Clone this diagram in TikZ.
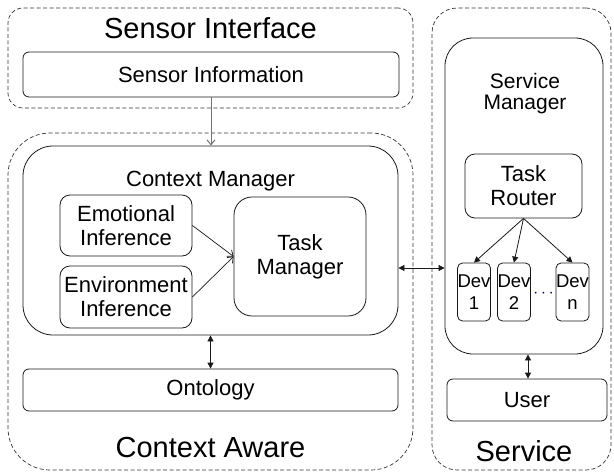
\documentclass[tikz,border=0pt]{standalone}
\usepackage{fontspec}
\setmainfont{Liberation Sans}
\usetikzlibrary{arrows.meta}
\begin{document}
\begin{tikzpicture}[x=1pt,y=-1pt,
  group/.style={draw=black!80, dashed, dash pattern=on 4pt off 2.5pt, line width=0.7pt, rounded corners=#1},
  box/.style={draw=black!90, line width=0.8pt, rounded corners=#1, align=center, inner sep=0pt,
    font=\fontsize{22}{24}\selectfont},
  devbox/.style={draw=black!90, line width=0.8pt, rounded corners=5pt, align=center, inner sep=0pt,
    minimum width=32pt, minimum height=58pt, font=\fontsize{18.5}{22}\selectfont},
  title/.style={font=\fontsize{29}{32}\selectfont, inner sep=0pt},
  lbl/.style={font=\fontsize{22}{22}\selectfont, inner sep=0pt, align=center},
  dbl/.style={{Triangle[length=6pt,width=6pt]}-{Triangle[length=6pt,width=6pt]}, line width=0.8pt, black!90},
  one/.style={-{Triangle[length=6pt,width=6pt]}, line width=0.8pt, black!90},
  barb/.style={-{Straight Barb[length=5pt,width=8pt]}, line width=0.7pt, black!90},
  gbarb/.style={-{Straight Barb[length=5pt,width=8pt]}, line width=1pt, black!55}
]
\useasboundingbox (0,0) rectangle (614,474);

% group frames
\node[group=15pt, minimum width=405pt, minimum height=100pt] (SIg) at (210.5,58) {};
\node[group=42pt, minimum width=405pt, minimum height=337pt] (CAg) at (210.5,301.5) {};
\node[group=25pt, minimum width=179pt, minimum height=462pt] (SVg) at (521.5,239) {};

% titles
\node[title] (SIt) at (210.5,28) {Sensor Interface};
\node[title] (CAt) at (210.5,448) {Context Aware};
\node[title] (SVt) at (524,451) {Service};

% sensor interface
\node[box=6pt, minimum width=376pt, minimum height=45pt] (SI) at (211,74.5) {Sensor Information};

% context aware
\node[box=30pt, minimum width=375pt, minimum height=189pt] (CM) at (210.5,240.5) {};
\node[lbl] (CMt) at (210.5,181) {Context Manager};
\node[box=10pt, minimum width=132pt, minimum height=61pt] (EM) at (126,225.5) {Emotional\\Inference};
\node[box=10pt, minimum width=132pt, minimum height=62pt] (EN) at (126,297) {Environment\\Inference};
\node[box=18pt, minimum width=132pt, minimum height=119pt] (TM) at (300,256.5) {Task\\Manager};
\node[box=6pt, minimum width=375pt, minimum height=42pt] (ON) at (210.5,390) {Ontology};

% service
\node[box=28pt, minimum width=158pt, minimum height=316pt] (SM) at (524,196) {};
\node[lbl, font=\fontsize{21}{21}\selectfont] (SMt) at (525,94) {Service\\Manager};
\node[box=10pt, minimum width=117pt, minimum height=64pt] (TR) at (523.5,186) {Task\\Router};
\node[devbox] (D1) at (474,292) {Dev\\1};
\node[devbox] (D2) at (514,292) {Dev\\2};
\node[devbox] (DN) at (572.5,292) {Dev\\n};
\node[inner sep=0pt, font=\fontsize{16}{16}\selectfont, text=blue!40!black] (dots) at (543.5,294) {$\cdots$};
\node[box=6pt, minimum width=160pt, minimum height=42pt] (US) at (527,400) {User};

% connectors
\draw[gbarb] (SI.south) -- (CM.north -| SI.south);
\draw[barb] (EM.east) -- (TM.west);
\draw[barb] (EN.east) -- (TM.west);
\draw[dbl] (CM.south) -- (ON.north);
\coordinate (hy) at (420,268);
\draw[dbl] (CM.east |- hy) -- (SM.west |- hy);
\draw[one] (TR.south) -- (D1.north);
\draw[one] (TR.south) -- (D2.north);
\draw[one] (TR.south) -- (DN.north);
\coordinate (vx) at (528,360);
\draw[dbl] (SM.south -| vx) -- (US.north -| vx);
\end{tikzpicture}
\end{document}
